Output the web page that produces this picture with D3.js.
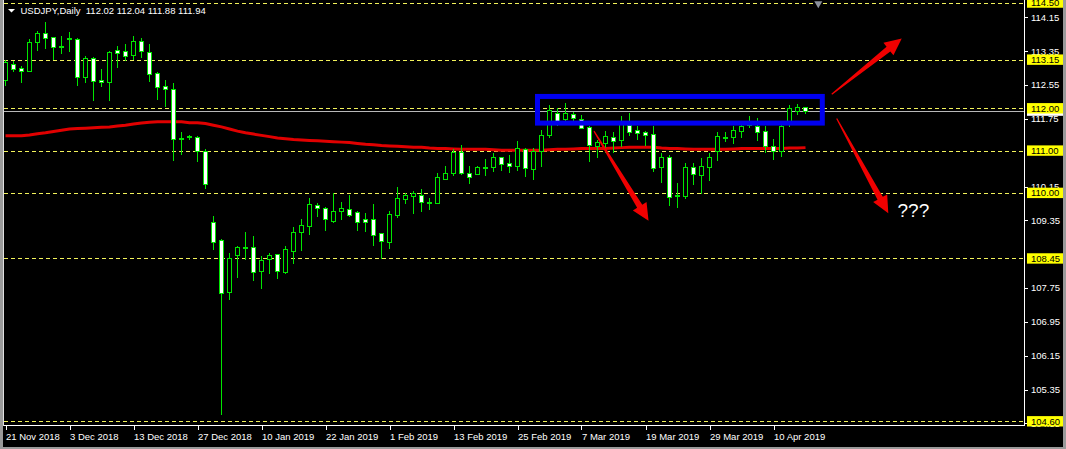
<!DOCTYPE html>
<html><head><meta charset="utf-8">
<script src="https://cdn.jsdelivr.net/npm/d3@7"></script>
<style>
html,body{margin:0;padding:0;background:#000;overflow:hidden}
svg{display:block}
text{font-family:"Liberation Sans",Arial,sans-serif}
</style>
</head><body>
<svg id="chart" width="1066" height="449"></svg>
<script>
// ---------- DATA ----------
const symbol = "USDJPY,Daily";
const lastBar = ["112.02", "112.04", "111.88", "111.94"];
const tickIndex = [0, 8, 16, 24, 32, 40, 48, 56, 64, 72, 80, 88, 96];
const tickLabels = ["21 Nov 2018", "3 Dec 2018", "13 Dec 2018", "27 Dec 2018", "10 Jan 2019", "22 Jan 2019",
  "1 Feb 2019", "13 Feb 2019", "25 Feb 2019", "7 Mar 2019", "19 Mar 2019", "29 Mar 2019", "10 Apr 2019"];

const open = [112.67,113.05,112.95,112.88,113.57,113.77,113.68,113.48,113.65,113.64,
  112.75,113.18,112.67,112.61,113.38,113.36,113.26,113.60,113.34,112.83,
  112.52,112.45,111.27,111.31,111.31,111.00,109.30,108.89,107.66,108.52,
  108.71,108.71,108.16,108.43,108.55,108.14,108.63,109.08,109.22,109.71,
  109.64,109.34,109.56,109.61,109.54,109.38,109.38,109.04,108.85,109.48,
  109.86,109.93,109.94,109.79,109.75,110.34,110.46,110.97,110.46,110.44,
  110.61,110.62,110.84,110.70,110.64,111.03,110.56,110.99,111.37,111.88,
  111.74,111.86,111.75,111.55,111.12,111.19,111.31,111.25,111.61,111.49,
  111.45,111.39,110.62,110.84,109.95,109.93,110.61,110.42,110.61,110.99,
  111.33,111.31,111.47,111.62,111.58,111.47,111.12,110.99,111.71,111.94,
  112.02];
const high = [113.14,113.12,113.00,113.64,113.83,114.03,113.68,113.71,113.80,113.65,
  113.24,113.21,112.92,113.35,113.47,113.52,113.71,113.65,113.52,112.85,
  112.67,112.59,111.43,111.37,111.34,111.03,109.45,108.92,108.57,108.74,
  109.07,108.97,108.50,108.59,108.55,108.74,109.19,109.38,109.87,109.75,
  109.67,109.99,109.78,109.95,109.57,109.52,109.74,109.04,109.57,110.14,
  110.00,110.04,110.09,109.87,110.46,110.64,111.03,111.13,110.64,110.64,
  110.80,110.94,110.86,110.90,111.23,111.05,111.05,111.49,112.08,112.00,
  112.13,111.91,111.84,111.58,111.25,111.46,111.45,111.82,111.88,111.58,
  111.47,111.58,110.94,110.90,110.24,110.70,110.71,110.82,110.94,111.45,
  111.45,111.58,111.65,111.82,111.78,111.58,111.27,111.68,112.08,112.09,
  112.04];
const low = [112.55,112.87,112.63,112.87,113.38,113.43,113.17,113.31,113.35,112.55,
  112.63,112.20,112.53,112.20,112.98,113.14,113.16,113.21,112.65,112.22,
  112.05,110.78,110.91,111.27,110.75,110.12,108.67,104.77,107.49,108.00,
  108.43,107.94,107.74,108.11,107.98,108.11,108.35,108.65,109.03,109.45,
  109.12,109.30,109.38,109.45,109.12,109.10,108.77,108.45,108.70,109.42,
  109.75,109.53,109.58,109.62,109.75,110.34,110.42,110.44,110.24,110.44,
  110.42,110.52,110.54,110.50,110.54,110.41,110.33,110.64,111.31,111.61,
  111.68,111.68,111.54,110.76,110.86,110.97,110.97,111.11,111.37,111.27,
  111.13,110.52,110.26,109.71,109.67,109.87,110.21,109.99,110.30,110.78,
  111.23,111.19,111.31,111.56,111.25,110.96,110.80,110.87,111.58,111.87,
  111.88];
const close = [113.09,112.93,112.89,113.56,113.77,113.65,113.46,113.48,113.65,112.75,
  113.18,112.65,112.61,113.32,113.31,113.24,113.60,113.36,112.80,112.50,
  112.46,111.27,111.30,111.35,110.99,110.20,108.85,107.64,108.45,108.71,
  108.71,108.14,108.41,108.52,108.15,108.67,109.07,109.23,109.73,109.65,
  109.38,109.57,109.64,109.48,109.32,109.32,109.01,108.87,109.49,109.87,
  109.94,109.99,109.79,109.79,110.37,110.46,110.97,110.46,110.38,110.61,
  110.61,110.84,110.68,110.64,111.05,110.58,110.99,111.37,111.96,111.70,
  111.88,111.76,111.54,111.14,111.20,111.35,111.23,111.68,111.45,111.41,
  111.37,110.60,110.84,109.90,109.95,110.61,110.44,110.64,110.84,111.35,
  111.33,111.49,111.59,111.60,111.45,111.12,110.99,111.58,112.00,112.02,
  111.94];
const movingAvg = [111.35,111.35,111.35,111.37,111.40,111.42,111.45,111.48,111.51,111.52,
  111.53,111.54,111.55,111.56,111.58,111.60,111.63,111.65,111.67,111.68,
  111.68,111.68,111.68,111.66,111.66,111.64,111.60,111.56,111.51,111.46,
  111.42,111.39,111.36,111.33,111.30,111.28,111.26,111.25,111.24,111.23,
  111.22,111.21,111.20,111.19,111.17,111.15,111.14,111.12,111.11,111.10,
  111.09,111.08,111.08,111.06,111.05,111.05,111.04,111.03,111.03,111.03,
  111.03,111.02,111.01,111.01,111.01,111.01,111.01,111.01,111.02,111.03,
  111.03,111.04,111.05,111.05,111.05,111.05,111.06,111.07,111.08,111.08,
  111.08,111.08,111.06,111.05,111.05,111.04,111.03,111.03,111.03,111.03,
  111.03,111.04,111.05,111.05,111.05,111.05,111.05,111.05,111.06,111.06,
  111.07];

const priceTicks = [114.15, 113.35, 112.55, 111.75, 110.15, 109.35, 107.75, 106.95, 106.15, 105.35, 104.55];
const levelLines = [114.50, 113.15, 112.00, 111.00, 110.00, 108.45, 104.60];
const bidPrice = 111.94;

// annotations in (bar index, price) space
const boxBars = [66.5, 102.1];
const boxPrices = [112.28, 111.65];
const arrowTails = [[73.56, 111.46], [103.28, 112.33], [103.9, 111.76]];
const arrowTips  = [[80.38, 109.34], [112.03, 113.65], [110.35, 109.52]];
const questionAt = [111.5, 109.43];
const shiftMarkBar = 101.6;

// ---------- LAYOUT ----------
const W = 1066, H = 449;
const plotL = 4, plotR = 1024, plotT = 0, plotB = 426;
const GREEN = "#00e600";
const svg = d3.select("#chart");

const xs = d3.scaleLinear().domain([0, 100]).range([5.5, 805.5]);
const ys = d3.scaleLinear().domain([104.496, 114.56]).range([425.7, 0]);
const py = v => Math.round(ys(v)) + 0.5;

svg.append("rect").attr("width", W).attr("height", H).attr("fill", "#000");

svg.append("defs").append("clipPath").attr("id", "clip")
  .append("rect").attr("x", plotL).attr("y", plotT).attr("width", plotR - plotL).attr("height", plotB - plotT);

const plot = svg.append("g").attr("clip-path", "url(#clip)");

// level lines (yellow dashed)
plot.selectAll("line.lvl").data(levelLines).join("line")
  .attr("x1", plotL).attr("x2", plotR).attr("y1", d => py(d)).attr("y2", d => py(d))
  .attr("stroke", "#f2f25a").attr("stroke-width", 1).attr("stroke-dasharray", "4,3")
  .attr("shape-rendering", "crispEdges");

// bid line
plot.append("line").attr("x1", plotL).attr("x2", plotR).attr("y1", py(bidPrice)).attr("y2", py(bidPrice))
  .attr("stroke", "#b8b8b8").attr("shape-rendering", "crispEdges");

// moving average
plot.append("path").datum(movingAvg)
  .attr("d", d3.line().x((d, i) => xs(i)).y(d => ys(d)))
  .attr("fill", "none").attr("stroke", "#e00000").attr("stroke-width", 3);

// candles
const idx = d3.range(open.length);
plot.selectAll("line.wick").data(idx).join("line")
  .attr("x1", i => xs(i)).attr("x2", i => xs(i))
  .attr("y1", i => py(high[i]) - 0.5).attr("y2", i => py(low[i]) + 0.5)
  .attr("stroke", GREEN).attr("shape-rendering", "crispEdges");

const bodies = idx.filter(i => py(open[i]) !== py(close[i]));
const dojis = idx.filter(i => py(open[i]) === py(close[i]));
plot.selectAll("rect.body").data(bodies).join("rect")
  .attr("x", i => xs(i) - 2).attr("width", 4)
  .attr("y", i => Math.min(py(open[i]), py(close[i])))
  .attr("height", i => Math.abs(py(open[i]) - py(close[i])))
  .attr("fill", i => close[i] < open[i] ? "#ffffff" : "#000000")
  .attr("stroke", GREEN).attr("shape-rendering", "crispEdges");
plot.selectAll("line.doji").data(dojis).join("line")
  .attr("x1", i => xs(i) - 2.5).attr("x2", i => xs(i) + 2.5)
  .attr("y1", i => py(close[i])).attr("y2", i => py(close[i]))
  .attr("stroke", GREEN).attr("stroke-width", 2).attr("shape-rendering", "crispEdges");

// blue box
plot.append("rect")
  .attr("x", xs(boxBars[0])).attr("y", ys(boxPrices[0]))
  .attr("width", xs(boxBars[1]) - xs(boxBars[0])).attr("height", ys(boxPrices[1]) - ys(boxPrices[0]))
  .attr("fill", "none").attr("stroke", "#0000f0").attr("stroke-width", 5);

// red arrows
function arrowPath(t, h) {
  const x0 = xs(t[0]), y0 = ys(t[1]), x1 = xs(h[0]), y1 = ys(h[1]);
  const dx = x1 - x0, dy = y1 - y0, L = Math.hypot(dx, dy);
  const ux = dx / L, uy = dy / L, nx = -uy, ny = ux;
  const headLen = 17, headW = 8, shaftW = 3, tailW = 0.6;
  const bx = x1 - ux * headLen, by = y1 - uy * headLen;
  const pts = [
    [x0 + nx * tailW, y0 + ny * tailW],
    [bx + nx * shaftW, by + ny * shaftW],
    [bx + nx * headW, by + ny * headW],
    [x1, y1],
    [bx - nx * headW, by - ny * headW],
    [bx - nx * shaftW, by - ny * shaftW],
    [x0 - nx * tailW, y0 - ny * tailW]
  ];
  return "M" + pts.map(p => p.join(",")).join("L") + "Z";
}
const arrows = d3.range(arrowTails.length);
svg.selectAll("path.arrow").data(arrows).join("path")
  .attr("d", i => arrowPath(arrowTails[i], arrowTips[i]))
  .attr("fill", "#f00000");

svg.append("text").attr("x", xs(questionAt[0])).attr("y", ys(questionAt[1]))
  .attr("fill", "#fff").attr("font-size", 19).text("???");

// shift marker
svg.append("path")
  .attr("d", d3.symbol().type(d3.symbolTriangle).size(28))
  .attr("transform", `translate(${xs(shiftMarkBar)},3.5) rotate(180)`)
  .attr("fill", "#8a8f9a");

// frame
svg.append("rect").attr("x", 0).attr("y", 0).attr("width", 3).attr("height", H).attr("fill", "#9a9a9a");
svg.append("line").attr("x1", 3.5).attr("x2", 3.5).attr("y1", 0).attr("y2", plotB).attr("stroke", "#e0e0e0");
svg.append("line").attr("x1", plotL).attr("x2", plotR + 1).attr("y1", plotB - 0.5).attr("y2", plotB - 0.5).attr("stroke", "#fff");
svg.append("line").attr("x1", plotR + 0.5).attr("x2", plotR + 0.5).attr("y1", 0).attr("y2", plotB).attr("stroke", "#fff");
svg.append("rect").attr("x", W - 3).attr("y", 0).attr("width", 3).attr("height", H).attr("fill", "#9a9a9a");
svg.append("rect").attr("x", 0).attr("y", H - 2).attr("width", W).attr("height", 2).attr("fill", "#9a9a9a");

// right price axis
const yAxisG = svg.append("g");
yAxisG.selectAll("line.t").data(priceTicks).join("line")
  .attr("x1", plotR).attr("x2", plotR + 4).attr("y1", d => py(d)).attr("y2", d => py(d))
  .attr("stroke", "#fff").attr("shape-rendering", "crispEdges");
yAxisG.selectAll("text.t").data(priceTicks).join("text")
  .attr("x", 1031).attr("y", d => ys(d)).attr("dy", "0.36em")
  .attr("fill", "#fff").attr("font-size", 9.5).text(d => d.toFixed(2));

// bid price tag (its text is hidden behind the 112.00 tag in the reference)
yAxisG.append("rect").attr("x", 1027).attr("y", ys(bidPrice) - 5).attr("width", 36).attr("height", 10).attr("fill", "#fff");

yAxisG.selectAll("rect.lv").data(levelLines).join("rect")
  .attr("x", 1027).attr("y", d => ys(d) - 5.2).attr("width", 36).attr("height", 10.4).attr("fill", "#ffff00");
yAxisG.selectAll("text.lv").data(levelLines).join("text")
  .attr("x", 1031).attr("y", d => ys(d)).attr("dy", "0.36em")
  .attr("fill", "#000").attr("font-size", 9.5).text(d => d.toFixed(2));

// bottom time axis
const xAxisG = svg.append("g");
xAxisG.selectAll("line").data(tickIndex).join("line")
  .attr("x1", d => Math.round(xs(d)) + 0.5).attr("x2", d => Math.round(xs(d)) + 0.5)
  .attr("y1", plotB).attr("y2", plotB + 4).attr("stroke", "#fff");
xAxisG.selectAll("text").data(tickIndex).join("text")
  .attr("x", (d, i) => Math.max(4, xs(d) + 0.5)).attr("y", 439.5)
  .attr("fill", "#fff").attr("font-size", 9.5).text((d, i) => tickLabels[i]);

// header
svg.append("path").attr("d", "M8,9 L15,9 L11.5,12.5 Z").attr("fill", "#fff");
svg.append("text").attr("x", 20.5).attr("y", 13.5).attr("fill", "#fff").attr("font-size", 9.5)
  .attr("xml:space", "preserve")
  .text(symbol + "  " + lastBar.join(" "));
</script>
</body></html>
